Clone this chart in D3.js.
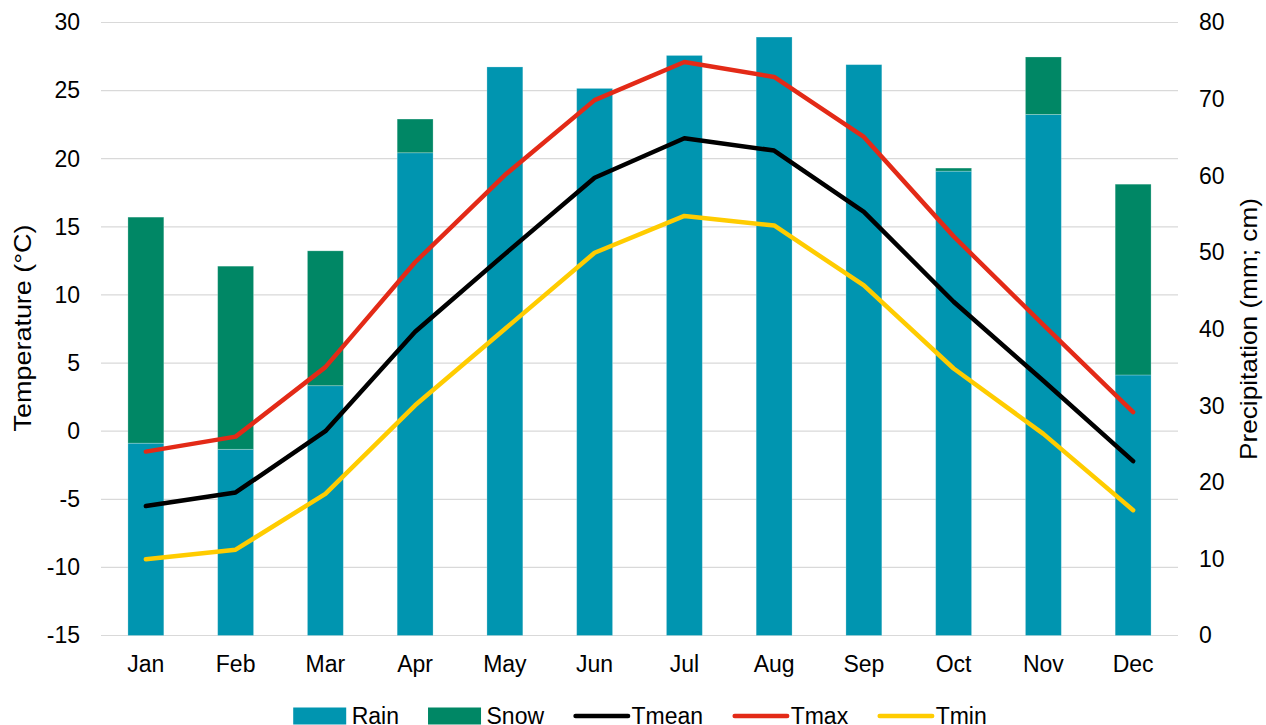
<!DOCTYPE html>
<html><head><meta charset="utf-8">
<script src="https://cdn.jsdelivr.net/npm/d3@7/dist/d3.min.js"></script>
<style>
body{margin:0;background:#fff}
svg{display:block}
text{font-family:"Liberation Sans",Arial,sans-serif;fill:#000}
</style>
</head><body>
<svg id="chart" width="1266" height="725"></svg>
<script>
const months = ["Jan","Feb","Mar","Apr","May","Jun","Jul","Aug","Sep","Oct","Nov","Dec"];
const rain  = [25.1, 24.3, 32.6, 63.0, 74.2, 71.4, 75.7, 78.1, 74.5, 60.6, 68.0, 34.0];
const snow  = [29.5, 23.9, 17.6, 4.4, 0, 0, 0, 0, 0, 0.4, 7.5, 24.9];
const tmean = [-5.5, -4.5, 0.0, 7.3, 13.0, 18.6, 21.5, 20.6, 16.1, 9.5, 3.7, -2.2];
const tmax  = [-1.5, -0.4, 4.7, 12.4, 18.8, 24.3, 27.1, 26.0, 21.6, 14.3, 7.8, 1.4];
const tmin  = [-9.4, -8.7, -4.6, 1.9, 7.5, 13.1, 15.8, 15.1, 10.7, 4.6, -0.2, -5.8];
const tempTicks   = [-15, -10, -5, 0, 5, 10, 15, 20, 25, 30];
const precipTicks = [0, 10, 20, 30, 40, 50, 60, 70, 80];

const C = {rain:"#0095B0", snow:"#008765", tmean:"#000000", tmax:"#E32A17", tmin:"#FFCC00", grid:"#D9D9D9"};

const svg = d3.select("#chart");
const L = 101, R = 1178, T = 22.5, B = 635.5;

const x = d3.scaleBand().domain(months).range([L, R]).paddingInner(0).paddingOuter(0);
const yT = d3.scaleLinear().domain([-15, 30]).range([B, T]);
const yP = d3.scaleLinear().domain([0, 80]).range([B, T]);

// gridlines (primary axis)
svg.append("g").selectAll("line").data(tempTicks).join("line")
  .attr("x1", L).attr("x2", R)
  .attr("y1", d => yT(d)).attr("y2", d => yT(d))
  .attr("stroke", C.grid).attr("stroke-width", 1.2);

// stacked bars
const stackData = months.map((m, i) => ({month: m, Rain: rain[i], Snow: snow[i]}));
const series = d3.stack().keys(["Rain", "Snow"])(stackData);
const bw = x.bandwidth() * 0.4;
svg.append("g").selectAll("g").data(series).join("g")
  .attr("fill", d => d.key === "Rain" ? C.rain : C.snow)
  .selectAll("rect").data(d => d).join("rect")
  .attr("x", d => x(d.data.month) + (x.bandwidth() - bw) / 2)
  .attr("width", bw)
  .attr("y", d => yP(d[1]))
  .attr("height", d => Math.max(0, yP(d[0]) - yP(d[1])))
  .attr("stroke", "rgba(255,255,255,0.3)").attr("stroke-width", 0.8);

// lines
const line = d3.line().x((d, i) => x(months[i]) + x.bandwidth() / 2).y(d => yT(d));
[[tmean, C.tmean], [tmax, C.tmax], [tmin, C.tmin]].forEach(([vals, col]) => {
  svg.append("path").datum(vals).attr("d", line)
    .attr("fill", "none").attr("stroke", col).attr("stroke-width", 4.5)
    .attr("stroke-linejoin", "round").attr("stroke-linecap", "round");
});

// axes
const fs = 23;
const fmt = d => String(d);
const axL = svg.append("g").attr("transform", `translate(${L},0)`)
  .call(d3.axisLeft(yT).tickValues(tempTicks).tickFormat(fmt).tickSize(0).tickPadding(21));
const axR = svg.append("g").attr("transform", `translate(${R},0)`)
  .call(d3.axisRight(yP).tickValues(precipTicks).tickFormat(fmt).tickSize(0).tickPadding(21));
const axB = svg.append("g").attr("transform", `translate(0,${B})`)
  .call(d3.axisBottom(x).tickSize(0).tickPadding(20));
[axL, axR, axB].forEach(a => {
  a.select(".domain").remove();
  a.selectAll("text").attr("font-size", fs).attr("font-family", '"Liberation Sans",Arial,sans-serif').attr("fill", "#000");
});

// axis titles
svg.append("text").attr("transform", "translate(30.5,328) rotate(-90)")
  .attr("text-anchor", "middle").attr("font-size", 24)
  .attr("textLength", 207).attr("lengthAdjust", "spacingAndGlyphs")
  .text("Temperature (°C)");
svg.append("text").attr("transform", "translate(1257,329) rotate(-90)")
  .attr("text-anchor", "middle").attr("font-size", 24)
  .attr("textLength", 262).attr("lengthAdjust", "spacingAndGlyphs")
  .text("Precipitation (mm; cm)");

// legend
const legendItems = [
  {name: "Rain", type: "rect", color: C.rain},
  {name: "Snow", type: "rect", color: C.snow},
  {name: "Tmean", type: "line", color: C.tmean},
  {name: "Tmax", type: "line", color: C.tmax},
  {name: "Tmin", type: "line", color: C.tmin}
];
const lg = svg.append("g");
let cx = 0;
const symY = 716, baseY = 723.5;
legendItems.forEach((it, i) => {
  const g = lg.append("g");
  if (it.type === "rect") {
    g.append("rect").attr("x", cx).attr("y", symY - 8.5).attr("width", 53).attr("height", 17).attr("fill", it.color);
    cx += 58.5;
  } else {
    g.append("line").attr("x1", cx + 2.5).attr("x2", cx + 55).attr("y1", symY).attr("y2", symY)
      .attr("stroke", it.color).attr("stroke-width", 4.5).attr("stroke-linecap", "round");
    cx += 58.5;
  }
  const t = g.append("text").attr("x", cx).attr("y", baseY).attr("font-size", fs).text(it.name);
  cx += t.node().getComputedTextLength();
  if (i < legendItems.length - 1) cx += 29;
});
lg.attr("transform", `translate(${640 - cx / 2},0)`);
</script>
</body></html>
